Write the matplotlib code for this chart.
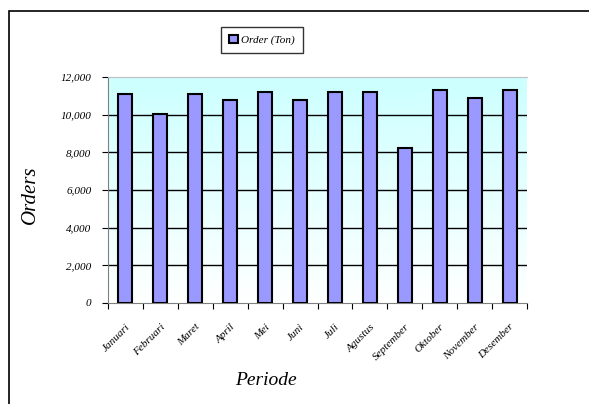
import matplotlib.pyplot as plt
import matplotlib.patches as mpatches
from matplotlib.ticker import FuncFormatter
import numpy as np

# monthly orders in tons
months = ['Januari', 'Februari', 'Maret', 'April', 'Mei', 'Juni', 'Juli',
          'Agustus', 'September', 'Oktober', 'November', 'Desember']
orders = [11100, 10050, 11100, 10760, 11190, 10760, 11190, 11190,
          8230, 11290, 10880, 11290]
y_ticks = [0, 2000, 4000, 6000, 8000, 10000, 12000]

plt.rcParams['font.family'] = 'Liberation Serif'

fig = plt.figure(figsize=(5.89, 4.04), dpi=100)
ax = fig.add_axes([0.1834, 0.25, 0.7113, 0.5594])

# cyan-to-white background fill
grad = np.linspace(0, 1, 256).reshape(-1, 1)
top = np.array([0.80, 1.0, 1.0])
bot = np.array([1.0, 1.0, 1.0])
img = bot + (top - bot) * grad[:, :, None] * np.ones((1, 1, 3))
ax.imshow(img, extent=[0, 1, 0, 1], transform=ax.transAxes, origin='lower',
          aspect='auto', zorder=0)

x = np.arange(len(months))
ax.bar(x, orders, width=0.4, color='#9999FF', edgecolor='black',
       linewidth=1.5, zorder=3, label='Order (Ton)')

ax.set_xlim(-0.5, len(months) - 0.5)
ax.set_ylim(0, 12000)
ax.set_yticks(y_ticks)
ax.yaxis.set_major_formatter(FuncFormatter(lambda v, p: f'{int(v):,}'))
for t in y_ticks[1:-1]:
    ax.axhline(t, color='black', linewidth=1, zorder=1)

ax.set_xticks(np.arange(len(months) + 1) - 0.5, minor=False)
ax.set_xticklabels([])
ax.set_xticks(x, minor=True)
ax.set_xticklabels(months, minor=True, rotation=45, ha='right',
                   rotation_mode='anchor', fontsize=8, style='italic')
ax.tick_params(axis='x', which='minor', length=0, pad=14)
ax.tick_params(axis='x', which='major', length=4, direction='out', color='black')
ax.tick_params(axis='y', length=4, direction='out', color='black',
               labelsize=8, pad=8)
for lab in ax.get_yticklabels():
    lab.set_style('italic')

ax.spines['top'].set_color('#C0C0C0')
ax.spines['right'].set_visible(False)
ax.spines['left'].set_color('#808080')
ax.spines['bottom'].set_color('#808080')

fig.text(0.051, 0.517, 'Orders', rotation=90, ha='center', va='center',
         fontsize=15, style='italic')
fig.text(0.452, 0.057, 'Periode', ha='center', va='center',
         fontsize=14, style='italic')

leg = fig.legend(loc='center', bbox_to_anchor=(0.445, 0.901),
                 frameon=True, fancybox=False, handlelength=0.8,
                 handleheight=0.8, handletextpad=0.3, borderpad=0.7,
                 prop={'style': 'italic', 'size': 8})
leg.get_frame().set_edgecolor('black')
leg.get_frame().set_linewidth(1)

# outer chart frame
fig.patches.append(mpatches.Rectangle((9 / 589, -0.1), 1.2, 1.1 - 11 / 404,
                                      transform=fig.transFigure, fill=False,
                                      edgecolor='black', linewidth=1.2))

fig.savefig('out.png', dpi=100)
